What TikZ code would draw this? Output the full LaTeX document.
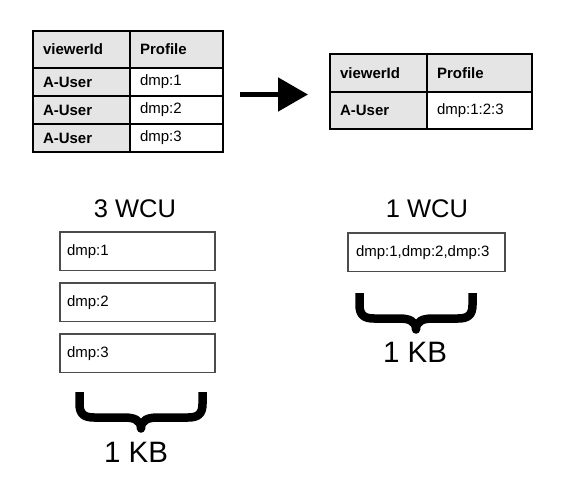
\documentclass[tikz,border=0pt]{standalone}
\usepackage{fontspec}
\setmainfont{Liberation Sans}
\usetikzlibrary{positioning,arrows.meta}

\begin{document}
\begin{tikzpicture}[x=1pt,y=-1pt,
node distance=0pt,
cell/.style={
	rectangle,draw=black,line width=2.8pt,outer sep=0pt,
	inner xsep=10pt,inner ysep=0pt,align=left,
	font=\fontsize{15}{18}\selectfont},
key/.style={cell,fill=gray!20,font=\fontsize{15}{18}\selectfont\bfseries},
val/.style={cell,fill=white},
rec/.style={
	rectangle,draw=black!70,line width=1.3pt,outer sep=0pt,
	minimum height=38.5pt,inner xsep=7pt,text width=141pt,align=left,
	font=\fontsize{15}{18}\selectfont},
wcu/.style={font=\fontsize{25.5}{30}\selectfont},
kbl/.style={font=\fontsize{29.5}{35}\selectfont},
kb/.style={draw=black,line width=8.5pt,line join=round}
]
\useasboundingbox (0,0) rectangle (564,486);

% many rows
\node[key,text width=77pt,minimum height=37pt,anchor=north west] (lh1) at (33,31) {viewerId};
\node[key,text width=73pt,minimum height=37pt,right=of lh1] (lh2) {Profile};
\foreach \i/\up in {1/lh1,2/lr1,3/lr2}{
	\node[key,text width=77pt,minimum height=28pt,below=of \up] (lr\i) {A-User};
	\node[val,text width=73pt,minimum height=28pt,right=of lr\i] (lv\i) {dmp:\i};
}

% one row
\node[key,text width=77pt,minimum height=38pt,anchor=north west] (rh1) at (330,54) {viewerId};
\node[key,text width=85pt,minimum height=38pt,right=of rh1] (rh2) {Profile};
\node[key,text width=77pt,minimum height=37pt,below=of rh1] (rr1) {A-User};
\node[val,text width=85pt,minimum height=37pt,right=of rr1] (rv1) {dmp:1:2:3};

\coordinate (from) at (240,94.5);
\coordinate (to) at (308,94.5);
\draw[line width=5pt,-{Triangle[length=30pt,width=33pt]}] (from) -- (to);

% left column
\node[wcu] (wcu3) at (135,208.5) {3 WCU};
\node[rec,anchor=north west] (d1) at (60,232) {dmp:1};
\node[rec,below=12.5pt of d1] (d2) {dmp:2};
\node[rec,below=12.5pt of d2] (d3) {dmp:3};
\node[kbl] (kbL) at (136,452) {1 KB};

% right column
\node[wcu] (wcu1) at (427,208.5) {1 WCU};
\node[rec,inner xsep=8pt,anchor=north west] (dall) at (348,233) {dmp:1,dmp:2,dmp:3};
\node[kbl] (kbR) at (415,352) {1 KB};

% braces
\foreach \cx/\t/\h in {141/392/61.5,416/293/56.5}{
	\draw[kb] ({\cx-\h},\t) -- ({\cx-\h},{\t+12})
	.. controls ({\cx-\h},{\t+22}) and ({\cx-\h+4.5},{\t+25.5}) .. ({\cx-\h+14.5},{\t+25.5})
	-- ({\cx-17},{\t+25.5})
	.. controls ({\cx-7},{\t+25.5}) and (\cx,{\t+28}) .. (\cx,{\t+36.5})
	.. controls (\cx,{\t+28}) and ({\cx+7},{\t+25.5}) .. ({\cx+17},{\t+25.5})
	-- ({\cx+\h-14.5},{\t+25.5})
	.. controls ({\cx+\h-4.5},{\t+25.5}) and ({\cx+\h},{\t+22}) .. ({\cx+\h},{\t+12})
	-- ({\cx+\h},\t);
}

\end{tikzpicture}
\end{document}
